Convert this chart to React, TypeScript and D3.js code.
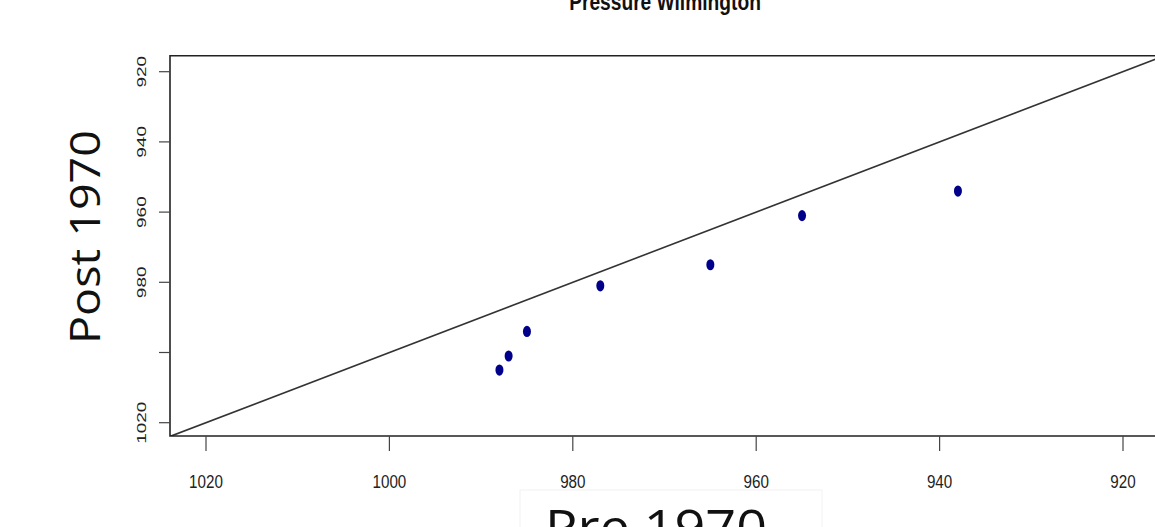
import React from "react";
import { scaleLinear } from "d3";

// pressure minima, Wilmington (hPa)
const pre1970 = [988, 987, 985, 977, 965, 955, 938];
const post1970 = [1005, 1001, 994, 981, 975, 961, 954];

const xTicks = [1020, 1000, 980, 960, 940, 920];
const yTicks = [920, 940, 960, 980, 1000, 1020];
const yTickLabels = ["920", "940", "960", "980", "", "1020"];

const width = 1155;
const height = 527;

export default function App() {
  // reversed axes, like the R plot
  const x = scaleLinear().domain([1020, 920]).range([206, 1123]);
  const y = scaleLinear().domain([920, 1020]).range([71.7, 422.7]);

  const box = { left: 170, top: 55.7, right: 1175, bottom: 436 };

  const diag = [1040, 900];

  return (
    <svg
      width={width}
      height={height}
      style={{ position: "absolute", left: 0, top: 0, background: "#fff" }}
    >
      <defs>
        <clipPath id="plotClip">
          <rect
            x={box.left}
            y={box.top}
            width={box.right - box.left}
            height={box.bottom - box.top}
          />
        </clipPath>
      </defs>

      {/* title, mostly cut off at the top */}
      <text
        transform={`translate(665,9.5) scale(0.8,1)`}
        textAnchor="middle"
        fontFamily="'Liberation Sans', Arial, sans-serif"
        fontWeight="bold"
        fontSize={24}
        fill="#111"
      >
        Pressure Wilmington
      </text>

      {/* 1:1 line */}
      <line
        clipPath="url(#plotClip)"
        x1={x(diag[0])}
        y1={y(diag[0])}
        x2={x(diag[1])}
        y2={y(diag[1])}
        stroke="#333"
        strokeWidth={1.6}
      />

      {/* plot box */}
      <path
        d={`M${box.right},${box.top}H${box.left}V${box.bottom}H${box.right}`}
        fill="none"
        stroke="#222"
        strokeWidth={1.6}
      />

      {/* x axis */}
      {xTicks.map((t) => (
        <g key={t}>
          <line x1={x(t)} x2={x(t)} y1={box.bottom} y2={box.bottom + 15} stroke="#444" strokeWidth={1.2} />
          <text
            transform={`translate(${x(t)},488) scale(0.8,1)`}
            textAnchor="middle"
            fontFamily="'Liberation Sans', Arial, sans-serif"
            fontSize={19}
            fill="#222"
          >
            {t}
          </text>
        </g>
      ))}

      {/* y axis */}
      {yTicks.map((t, i) => (
        <g key={t}>
          <line x1={box.left - 11} x2={box.left} y1={y(t)} y2={y(t)} stroke="#444" strokeWidth={1.2} />
          <text
            transform={`translate(146,${y(t)}) rotate(-90) scale(1,0.68)`}
            textAnchor="middle"
            fontFamily="'Liberation Sans', Arial, sans-serif"
            fontSize={19}
            fill="#222"
          >
            {yTickLabels[i]}
          </text>
        </g>
      ))}

      {/* points */}
      {pre1970.map((p, i) => (
        <ellipse key={i} cx={x(p)} cy={y(post1970[i])} rx={4} ry={5.6} fill="#00008b" />
      ))}

      {/* axis titles pasted on top */}
      <text
        transform="translate(100,237) rotate(-90)"
        textAnchor="middle"
        fontFamily="'Open Sans', 'Noto Sans', sans-serif"
        fontSize={42}
        textLength={214}
        lengthAdjust="spacingAndGlyphs"
        fill="#111"
      >
        Post 1970
      </text>

      <rect x={520} y={490} width={302} height={60} fill="#fff" stroke="#f2f2f2" strokeWidth={1} />
      <text
        x={545}
        y={545}
        fontFamily="'Open Sans', 'Noto Sans', sans-serif"
        fontSize={50}
        textLength={222}
        lengthAdjust="spacingAndGlyphs"
        fill="#111"
      >
        Pre 1970
      </text>
    </svg>
  );
}
